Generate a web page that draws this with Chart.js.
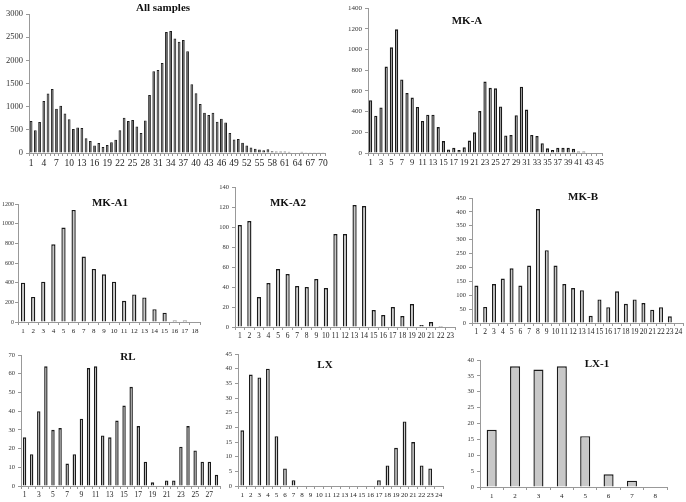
<!DOCTYPE html>
<html lang="en">
<head>
<meta charset="utf-8" />
<title>Histograms</title>
<script src="https://cdn.jsdelivr.net/npm/chart.js@4"></script>
<style>
    body { margin: 0; background: #fff; }
    #wrap { position: relative; width: 686px; height: 502px; overflow: hidden; }
    #wrap canvas { position: absolute; }
</style>
</head>
<body>
<div id="wrap"></div>
<script>
    // values, one array per panel
    const allSamples = [690, 490, 670, 1120, 1285, 1380, 955, 1020, 855, 730,
        520, 550, 540, 320, 260, 160, 215, 130, 170, 230,
        285, 490, 760, 690, 710, 570, 430, 700, 1250, 1765,
        1790, 1945, 2610, 2635, 2470, 2400, 2440, 2195, 1485, 1290,
        1055, 870, 820, 870, 675, 740, 660, 430, 290, 300,
        220, 160, 120, 90, 75, 60, 80, 40, 30, 30,
        30, 25, 10, 10, 25, 5, 5, 5, 5, 5];
    const mkA = [510, 360, 440, 835, 1020, 1195, 710, 580, 535, 445,
        310, 370, 370, 250, 115, 35, 50, 30, 55, 120,
        200, 405, 690, 630, 625, 450, 170, 175, 365, 640,
        420, 175, 165, 95, 45, 30, 50, 50, 50, 40,
        15, 15, 0, 0, 0];
    const mkA1 = [400, 255, 410, 790, 960, 1140, 665, 540, 485, 410,
        215, 280, 250, 130, 95, 15, 15, 0];
    const mkA2 = [102, 106, 30, 44, 58, 53, 41, 40, 48, 39,
        93, 93, 122, 121, 17, 12, 20, 11, 23, 2,
        5, 1, 0];
    const mkB = [135, 58, 140, 160, 197, 135, 207, 410, 262, 207,
        140, 126, 118, 26, 85, 57, 114, 69, 85, 72,
        48, 57, 24, 0];
    const rl = [26, 17, 40, 64, 30, 31, 12, 17, 36, 63,
        64, 27, 26, 35, 43, 53, 32, 13, 2, 0,
        3, 3, 21, 32, 19, 13, 13, 6];
    const lx = [19, 38, 37, 40, 17, 6, 2, 0, 0, 0,
        0, 0, 0, 0, 0, 0, 2, 7, 13, 22,
        15, 7, 6, 0];
    const lx1 = [18, 38, 37, 38, 16, 4, 2, 0];

    // y tick labels
    const allYTicks = [0, 500, 1000, 1500, 2000, 2500, 3000];
    const mkAYTicks = [0, 200, 400, 600, 800, 1000, 1200, 1400];
    const mkA1YTicks = [0, 200, 400, 600, 800, 1000, 1200];
    const mkA2YTicks = [0, 20, 40, 60, 80, 100, 120, 140];
    const mkBYTicks = [0, 50, 100, 150, 200, 250, 300, 350, 400, 450];
    const rlYTicks = [0, 10, 20, 30, 40, 50, 60, 70];
    const lxYTicks = [0, 5, 10, 15, 20, 25, 30, 35, 40, 45];
    const lx1YTicks = [0, 5, 10, 15, 20, 25, 30, 35, 40];

    // categories are just 1..n
    function seq(n) { return Array.from({ length: n }, (_, i) => String(i + 1)); }

    const SERIF = '"Liberation Serif", "DejaVu Serif", serif';
    const PAD_L = 34, PAD_T = 12, PAD_R = 10, PAD_B = 20;

    // area = [left, top, right, bottom] of the plot area on the page
    const panels = [
        { title: 'All samples', values: allSamples, yTicks: allYTicks, area: [29, 14, 325, 153], titleAt: [163, 8],
          xEvery: 3, xFont: 9.5, yFont: 8.5, bar: 0.65, fill: '#4a4a4a', border: '#1e1e1e', bw: 1 },
        { title: 'MK-A', values: mkA, yTicks: mkAYTicks, area: [368, 8, 602, 153], titleAt: [467, 21],
          xEvery: 2, xFont: 8.5, yFont: 7, bar: 0.62 },
        { title: 'MK-A1', values: mkA1, yTicks: mkA1YTicks, area: [18, 204, 200, 322], titleAt: [110, 203],
          xEvery: 1, xFont: 7, yFont: 6, bar: 0.42, yPad: 1 },
        { title: 'MK-A2', values: mkA2, yTicks: mkA2YTicks, area: [235, 187, 455, 327], titleAt: [288, 203],
          xEvery: 1, xFont: 7.5, yFont: 6.5, bar: 0.44 },
        { title: 'MK-B', values: mkB, yTicks: mkBYTicks, area: [472, 198, 683, 323], titleAt: [583, 197],
          xEvery: 1, xFont: 7.5, yFont: 6.5, bar: 0.46 },
        { title: 'RL', values: rl, yTicks: rlYTicks, area: [21, 355, 220, 486], titleAt: [128, 357],
          xEvery: 2, xFont: 7.5, yFont: 6.5, bar: 0.48 },
        { title: 'LX', values: lx, yTicks: lxYTicks, area: [238, 354, 443, 486], titleAt: [325, 365],
          xEvery: 1, xFont: 7, yFont: 6.5, bar: 0.44 },
        { title: 'LX-1', values: lx1, yTicks: lx1YTicks, area: [480, 360, 667, 487], titleAt: [597, 364],
          xEvery: 1, xFont: 7, yFont: 6.5, bar: 0.43 }
    ];

    // draws the panel name inside the plot
    const panelTitle = {
        id: 'panelTitle',
        afterDraw(chart, args, opts) {
            const ctx = chart.ctx;
            ctx.save();
            ctx.font = 'bold 11px ' + SERIF;
            ctx.fillStyle = '#111';
            ctx.textAlign = 'center';
            ctx.textBaseline = 'middle';
            ctx.fillText(opts.text, opts.x, opts.y);
            ctx.restore();
        }
    };

    const wrap = document.getElementById('wrap');

    panels.forEach(p => {
        const [L, T, R, B] = p.area;
        const left = L - PAD_L, top = T - PAD_T;
        const cv = document.createElement('canvas');
        cv.width = R - L + PAD_L + PAD_R;
        cv.height = B - T + PAD_T + PAD_B;
        cv.style.left = left + 'px';
        cv.style.top = top + 'px';
        wrap.appendChild(cv);

        const labels = seq(p.values.length);
        const yMax = p.yTicks[p.yTicks.length - 1];
        const yStep = p.yTicks[1] - p.yTicks[0];

        new Chart(cv, {
            type: 'bar',
            data: {
                labels: labels,
                datasets: [{
                    data: p.values,
                    backgroundColor: p.fill || '#c8c8c8',
                    borderColor: p.border || '#1a1a1a',
                    borderWidth: p.bw || 1.4,
                    barPercentage: p.bar,
                    categoryPercentage: 1
                }]
            },
            options: {
                responsive: false,
                animation: false,
                devicePixelRatio: 1,
                layout: { padding: { left: 0, top: PAD_T, right: PAD_R, bottom: 0 } },
                plugins: {
                    legend: { display: false },
                    tooltip: { enabled: false },
                    panelTitle: { text: p.title, x: p.titleAt[0] - left, y: p.titleAt[1] - top }
                },
                scales: {
                    x: {
                        grid: { display: true, drawOnChartArea: false, drawTicks: true, tickLength: 3, color: '#999', offset: true },
                        border: { color: '#999' },
                        ticks: {
                            autoSkip: false, maxRotation: 0, padding: 2, color: '#222',
                            font: { family: SERIF, size: p.xFont },
                            callback: (v, i) => (i % p.xEvery === 0 ? labels[i] : '')
                        },
                        afterFit: s => { s.height = PAD_B; }
                    },
                    y: {
                        min: 0, max: yMax,
                        grid: { display: true, drawOnChartArea: false, drawTicks: true, tickLength: 3, color: '#999' },
                        border: { color: '#999' },
                        ticks: {
                            stepSize: yStep, padding: p.yPad || 3, color: '#333',
                            font: { family: SERIF, size: p.yFont },
                            callback: v => String(v)
                        },
                        afterFit: s => { s.width = PAD_L; }
                    }
                }
            },
            plugins: [panelTitle]
        });
    });
</script>
</body>
</html>
